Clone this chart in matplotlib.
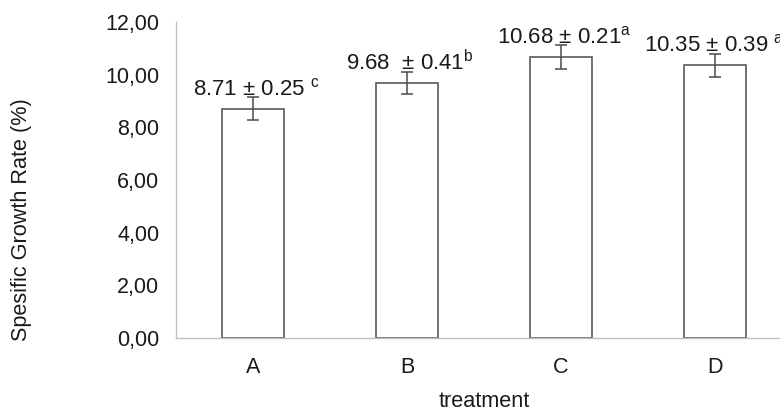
import matplotlib
matplotlib.use("Agg")
import matplotlib.pyplot as plt
from matplotlib.ticker import FuncFormatter

plt.rcParams['font.family'] = ['Liberation Sans', 'DejaVu Sans']
plt.rcParams['mathtext.fontset'] = 'custom'
plt.rcParams['mathtext.rm'] = 'Liberation Sans'
plt.rcParams['mathtext.it'] = 'Liberation Sans'

categories = ['A', 'B', 'C', 'D']
means = [8.71, 9.68, 10.68, 10.35]
errors_drawn = [0.43, 0.43, 0.46, 0.43]
value_labels = ['8.71 \u00b1 0.25 ', '9.68  \u00b1 0.41', '10.68 \u00b1 0.21', '10.35 \u00b1 0.39 ']
letters = ['c', 'b', 'a', 'ab']
yticks = [0, 2, 4, 6, 8, 10, 12]

fig = plt.figure(figsize=(7.8, 4.11), dpi=100)
ax = fig.add_axes([0.2256, 0.1776, 0.79, 0.769])

x = list(range(len(categories)))
ax.bar(x, means, width=0.40, color='white', edgecolor='#5a5a5a', linewidth=1.2, zorder=2)
ax.errorbar(x, means, yerr=errors_drawn, fmt='none', ecolor='#4a4a4a',
            elinewidth=1.1, capsize=4, capthick=1.1, zorder=3)

for xi, m, e, lab, lt in zip(x, means, errors_drawn, value_labels, letters):
    ax.text(xi + 0.02, m + e + 0.06, lab + r"$^{\mathrm{" + lt + "}}$",
            ha='center', va='baseline', fontsize=16, color='#1a1a1a', zorder=4)

ax.set_xlim(-0.5, 3.5)
ax.set_ylim(0, 12)
ax.set_yticks(yticks)
ax.yaxis.set_major_formatter(FuncFormatter(lambda v, p: f"{v:.2f}".replace('.', ',')))
ax.set_xticks(x)
ax.set_xticklabels(categories)
ax.tick_params(axis='both', length=0, labelsize=15.5, colors='#1a1a1a')
ax.tick_params(axis='y', pad=12)
ax.tick_params(axis='x', pad=14)

for s in ['top', 'right']:
    ax.spines[s].set_visible(False)
for s in ['left', 'bottom']:
    ax.spines[s].set_color('#c0c0c0')
    ax.spines[s].set_linewidth(1.0)

ax.set_ylabel('Spesific Growth Rate (%)', fontsize=15.6, color='#1a1a1a')
ax.set_xlabel('treatment', fontsize=15.6, color='#1a1a1a')
ax.yaxis.set_label_coords(-0.233, 0.373)
ax.xaxis.set_label_coords(0.5, -0.168)

fig.savefig('out.png', dpi=100)
